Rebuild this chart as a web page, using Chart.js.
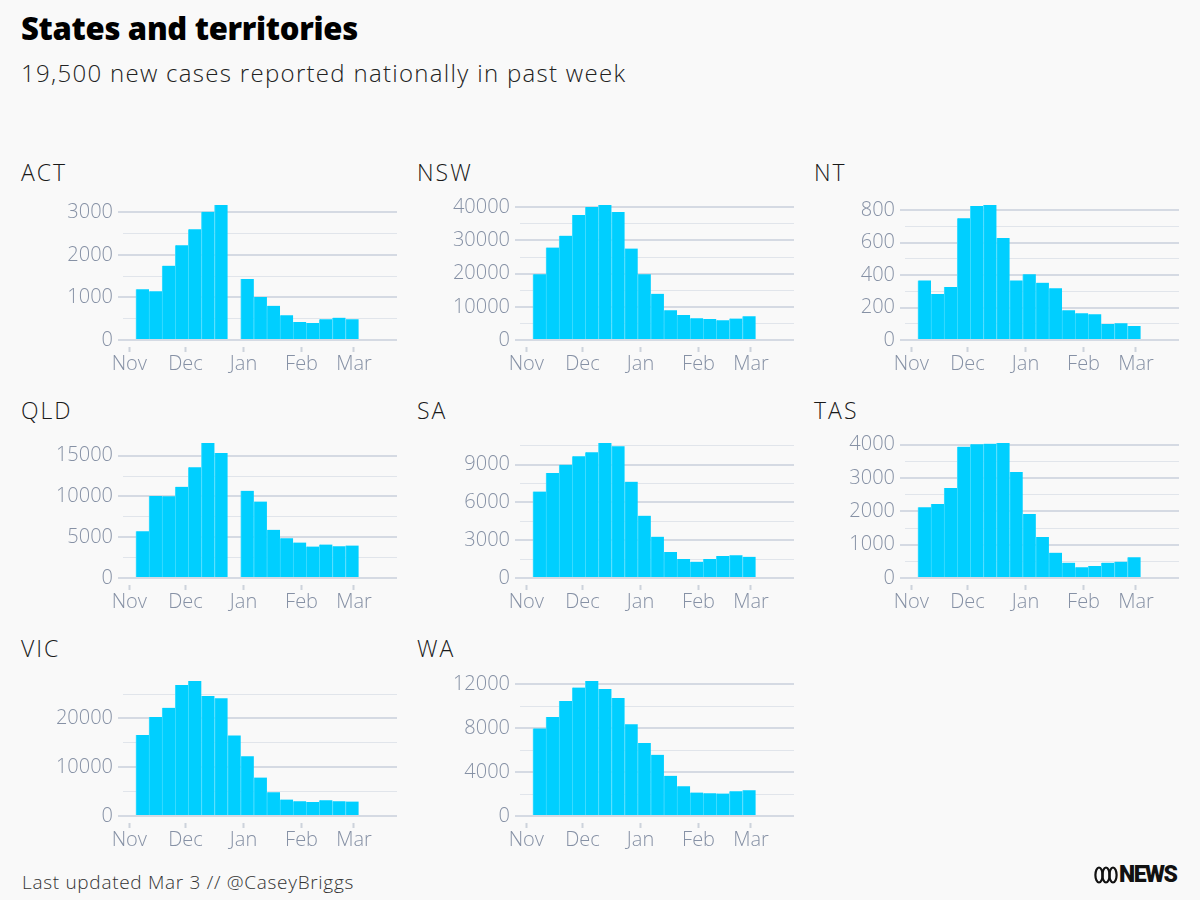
<!doctype html>
<html lang="en">
<head>
<meta charset="utf-8">
<title>States and territories</title>
<script src="https://cdn.jsdelivr.net/npm/chart.js@4.4.1/dist/chart.umd.min.js"></script>
<style>
  body { margin: 0; background: #f9f9f9; }
  #page { position: relative; width: 1200px; height: 900px; overflow: hidden; background: #f9f9f9; font-family: "Open Sans", Lato, sans-serif; }
  .abs { position: absolute; margin: 0; white-space: nowrap; }
  #title { left: 21px; top: 13px; font-size: 31px; line-height: 30px; font-weight: 800; color: #000; letter-spacing: -0.3px; }
  #subtitle { left: 21px; top: 61px; font-size: 24px; line-height: 23px; font-weight: 300; color: #222; letter-spacing: 1.3px; }
  .state { font-size: 23px; line-height: 23px; font-weight: 300; color: #1a1a1a; letter-spacing: 2px; }
  #footer { left: 22px; top: 873px; font-size: 19px; line-height: 18px; font-weight: 300; color: #333; letter-spacing: 0.7px; }
  #logo { left: 1094px; top: 863px; height: 24px; display: flex; align-items: center; }
  #logo span { font-family: Roboto, sans-serif; font-size: 23px; line-height: 24px; font-weight: 900; color: #111; letter-spacing: -1.5px; margin-left: 1px; }
  canvas { position: absolute; }
</style>
</head>
<body>
<div id="page">
  <h1 id="title" class="abs">States and territories</h1>
  <div id="subtitle" class="abs">19,500 new cases reported nationally in past week</div>
  <div id="footer" class="abs">Last updated Mar 3 // @CaseyBriggs</div>
  <div id="logo" class="abs">
    <svg width="24" height="18" viewBox="0 0 24 18">
      <g fill="none" stroke="#111" stroke-width="2.2">
        <ellipse cx="5" cy="9" rx="3.6" ry="7.5"/>
        <ellipse cx="12" cy="9" rx="3.6" ry="7.5"/>
        <ellipse cx="19" cy="9" rx="3.6" ry="7.5"/>
      </g>
    </svg>
    <span>NEWS</span>
  </div>
</div>
<script>
// week positions, in days since 1 Nov (bar centres)
var weekDays = [7, 14, 21, 28, 35, 42, 49, 56, 63, 70, 77, 84, 91, 98, 105, 112, 119];
var monthDays = [0, 30, 61, 92, 120];
var monthLabels = ["Nov", "Dec", "Jan", "Feb", "Mar"];

var states = ["ACT", "NSW", "NT", "QLD", "SA", "TAS", "VIC", "WA"];

var act = [1190, 1145, 1745, 2225, 2600, 3010, 3170, null, 1435, 1010, 805, 580, 425, 400, 485, 525, 485];
var nsw = [19800, 27850, 31450, 37700, 40100, 40700, 38600, 27550, 19800, 13950, 8950, 7550, 6550, 6350, 5950, 6450, 7150];
var nt = [367, 283, 326, 749, 825, 831, 628, 367, 404, 353, 318, 183, 164, 158, 98, 103, 86];
var qld = [5750, 10070, 10030, 11180, 13600, 16560, 15330, null, 10690, 9370, 5920, 4890, 4360, 3860, 4110, 3900, 3990];
var sa = [6860, 8340, 9000, 9660, 9980, 10720, 10460, 7650, 4950, 3280, 2070, 1510, 1300, 1510, 1750, 1800, 1690];
var tas = [2120, 2220, 2700, 3940, 4010, 4030, 4050, 3180, 1920, 1230, 760, 460, 320, 360, 460, 490, 620];
var vic = [16580, 20270, 22190, 26850, 27670, 24590, 24110, 16510, 12260, 7880, 4860, 3360, 3010, 2880, 3220, 3010, 2950];
var wa = [7980, 9020, 10480, 11700, 12300, 11570, 10750, 8350, 6640, 5570, 3660, 2710, 2130, 2070, 2040, 2250, 2350];

var seriesByState = [act, nsw, nt, qld, sa, tas, vic, wa];
var labelSteps = [1000, 10000, 200, 5000, 3000, 1000, 10000, 4000];

// layout
var colLeft = [123, 520, 905];
var colTitle = [21, 417, 814];
var rowTop = [205, 443, 681];
var CHART_W = 274, CHART_H = 135, Y_W = 105, PAD_TOP = 20, PAD_RIGHT = 6, X_H = 45;
var X_MIN = -3.4, X_MAX = 143;

var BAR = "#00cfff";
var BAR_EDGE = "#3fdcff";
var TICK = "#8691a5";
var GRID_MAJOR = "#d5dae3";
var GRID_MINOR = "#e1e5eb";
var FONT = "'Open Sans', Lato, sans-serif";

var page = document.getElementById("page");

function drawPanel(k) {
  var col = k % 3, row = Math.floor(k / 3);
  var values = seriesByState[k];
  var step = labelSteps[k];

  var t = document.createElement("div");
  t.className = "abs state";
  t.textContent = states[k];
  t.style.left = colTitle[col] + "px";
  t.style.top = (rowTop[row] - 44) + "px";
  page.appendChild(t);

  var c = document.createElement("canvas");
  c.width = Y_W + CHART_W + PAD_RIGHT;
  c.height = PAD_TOP + CHART_H + X_H;
  c.style.left = (colLeft[col] - Y_W) + "px";
  c.style.top = (rowTop[row] - PAD_TOP) + "px";
  page.appendChild(c);

  var pts = [];
  for (var i = 0; i < weekDays.length; i++) pts.push({ x: weekDays[i], y: values[i] });
  var ymax = Math.max.apply(null, values.filter(function (v) { return v != null; }));

  new Chart(c, {
    type: "bar",
    data: {
      datasets: [{
        data: pts,
        backgroundColor: BAR,
        borderColor: BAR_EDGE,
        borderWidth: { left: 1, right: 0, top: 0, bottom: 0 },
        barPercentage: 1,
        categoryPercentage: 1
      }]
    },
    options: {
      responsive: false,
      animation: false,
      layout: { padding: { top: PAD_TOP, right: PAD_RIGHT, left: 0, bottom: 0 } },
      plugins: { legend: { display: false }, tooltip: { enabled: false } },
      scales: {
        x: {
          type: "linear",
          min: X_MIN,
          max: X_MAX,
          offset: false,
          border: { display: false },
          grid: {
            offset: false,
            drawOnChartArea: false,
            drawTicks: true,
            tickLength: 12,
            tickWidth: 2,
            tickColor: "#cdd3dc",
            tickBorderDash: [0, 7, 5, 60]
          },
          afterBuildTicks: function (s) { s.ticks = monthDays.map(function (v) { return { value: v }; }); },
          afterFit: function (s) { s.height = X_H; },
          ticks: {
            autoSkip: false,
            maxRotation: 0,
            padding: 0,
            color: TICK,
            font: { family: FONT, size: 20, weight: 300 },
            callback: function (v, i) { return monthLabels[i]; }
          }
        },
        y: {
          min: 0,
          max: ymax,
          border: { display: false },
          grid: {
            drawTicks: true,
            tickLength: 5,
            color: function (ctx) { return ctx.tick && ctx.tick.value % step === 0 ? GRID_MAJOR : GRID_MINOR; },
            lineWidth: function (ctx) { return ctx.tick && ctx.tick.value % step === 0 ? 2 : 1; },
            tickColor: function (ctx) { return ctx.tick && ctx.tick.value % step === 0 ? GRID_MAJOR : "rgba(0,0,0,0)"; },
            tickWidth: 2
          },
          // grid every half label step, labels on the full steps
          afterBuildTicks: function (s) {
            var ticks = [];
            for (var v = 0; v <= s.max; v += step / 2) ticks.push({ value: v });
            s.ticks = ticks;
          },
          afterFit: function (s) { s.width = Y_W; },
          ticks: {
            autoSkip: false,
            padding: 5,
            color: TICK,
            font: { family: FONT, size: 20, weight: 300 },
            callback: function (v) { return v % step === 0 ? String(v) : ""; }
          }
        }
      }
    }
  });
}

for (var k = 0; k < states.length; k++) drawPanel(k);
</script>
</body>
</html>
